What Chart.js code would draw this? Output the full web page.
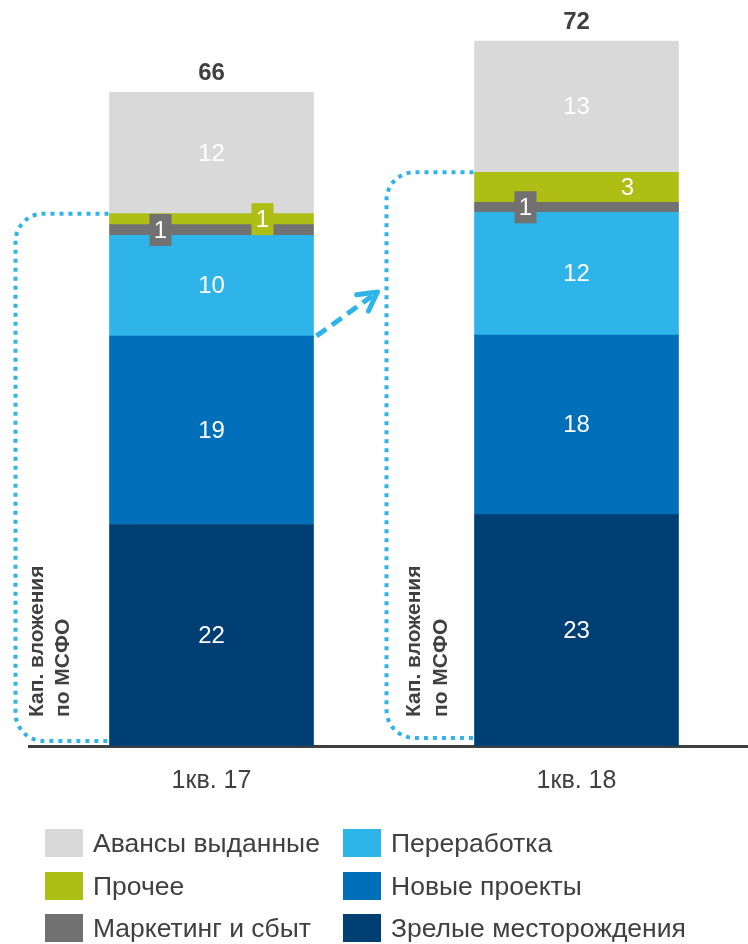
<!DOCTYPE html>
<html>
<head>
<meta charset="utf-8">
<script src="https://cdn.jsdelivr.net/npm/chart.js@4.4.1/dist/chart.umd.min.js"></script>
<style>
  html, body { margin: 0; padding: 0; background: #fff; overflow: hidden; width: 748px; height: 944px; }
  #wrap { position: absolute; left: 0; top: 0; width: 760px; height: 944px; }
  #legend { position: absolute; left: 0; top: 0; width: 748px; height: 944px; pointer-events: none;
            font-family: 'Liberation Sans', Arial, sans-serif; font-size: 26.5px; color: #404040; }
  .item { position: absolute; display: flex; align-items: center; height: 28px; white-space: nowrap; }
  .sw { width: 38px; height: 28px; margin-right: 10px; flex: none; }
</style>
</head>
<body>
<div id="wrap"><canvas id="c"></canvas></div>
<div id="legend"></div>
<script>
// данные (млрд руб.)
const categories = ['1кв. 17', '1кв. 18']
const matureFields = [22.45, 23.45]   // Зрелые месторождения
const newProjects  = [19.1, 18.2]     // Новые проекты
const refining     = [10.2, 12.45]    // Переработка
const marketing    = [1.1, 1.0]       // Маркетинг и сбыт
const other        = [1.1, 3.05]      // Прочее
const advances     = [12.3, 13.3]     // Авансы выданные
const totals       = [66, 72]
const bracketText  = ['Кап. вложения', 'по МСФО']

const FONT = "'Liberation Sans', Arial, sans-serif"
const TEXT = '#404040'
const DOTS = '#2EB4E8'

const datasets = [
  { label: 'Зрелые месторождения', data: matureFields, backgroundColor: '#003F74' },
  { label: 'Новые проекты',        data: newProjects,  backgroundColor: '#006FBA' },
  { label: 'Переработка',          data: refining,     backgroundColor: '#2EB4E8' },
  { label: 'Маркетинг и сбыт',     data: marketing,    backgroundColor: '#717171' },
  { label: 'Прочее',               data: other,        backgroundColor: '#AEBE15' },
  { label: 'Авансы выданные',      data: advances,     backgroundColor: '#D9D9D9' }
].map(d => ({ ...d, borderWidth: 0, barThickness: 204 }))

// где по ширине столбца ставить подпись сегмента
const labelSpot = [0.5, 0.5, 0.5, 0.25, 0.75, 0.5]
// отступы скобок «Кап. вложения» от левого края столбца
const bracketLeft = [94, 88]
const bracketLow  = [5, 8]
const textShift   = [[22, 48], [28, 55]]

const overlay = {
  id: 'overlay',
  afterDatasetsDraw(chart) {
    const { ctx, scales: { y } } = chart
    const base = y.getPixelForValue(0)
    ctx.save()

    // подписи сегментов
    ctx.textAlign = 'center'
    ctx.textBaseline = 'middle'
    chart.data.datasets.forEach((ds, di) => {
      chart.getDatasetMeta(di).data.forEach((bar, bi) => {
        const h = bar.base - bar.y
        const cx = bar.x - bar.width / 2 + bar.width * labelSpot[di]
        const cy = (bar.y + bar.base) / 2
        if (h < 24) {
          ctx.fillStyle = ds.backgroundColor
          ctx.fillRect(cx - 11, cy - 16, 22, 32)
        }
        ctx.fillStyle = '#fff'
        ctx.font = '24px ' + FONT
        ctx.fillText(String(Math.round(ds.data[bi])), cx, cy + 1)
      })
    })

    // итоги над столбцами
    const topMeta = chart.getDatasetMeta(chart.data.datasets.length - 1)
    ctx.fillStyle = TEXT
    ctx.font = 'bold 24px ' + FONT
    topMeta.data.forEach((bar, bi) => ctx.fillText(String(totals[bi]), bar.x, bar.y - 18.5))

    // пунктирные скобки + вертикальный текст
    const firstMeta = chart.getDatasetMeta(0)
    firstMeta.data.forEach((bar, bi) => {
      const x0 = bar.x - bar.width / 2
      const capex = matureFields[bi] + newProjects[bi] + refining[bi] + marketing[bi] + other[bi]
      const yTop = y.getPixelForValue(capex)
      const yBot = base - bracketLow[bi]
      const xv = x0 - bracketLeft[bi]
      const r = 28
      ctx.strokeStyle = DOTS
      ctx.lineWidth = 4
      ctx.lineCap = 'butt'
      ctx.setLineDash([4, 5])
      ctx.beginPath()
      ctx.moveTo(x0 - 1, yTop)
      ctx.lineTo(xv + r, yTop)
      ctx.arcTo(xv, yTop, xv, yTop + r, r)
      ctx.lineTo(xv, yBot - r)
      ctx.arcTo(xv, yBot, xv + r, yBot, r)
      ctx.lineTo(x0 - 1, yBot)
      ctx.stroke()

      ctx.save()
      ctx.fillStyle = TEXT
      ctx.font = 'bold 21px ' + FONT
      ctx.textAlign = 'left'
      ctx.textBaseline = 'middle'
      bracketText.forEach((t, li) => {
        ctx.save()
        ctx.translate(xv + textShift[bi][li], base - 29)
        ctx.rotate(-Math.PI / 2)
        ctx.fillText(t, 0, 0)
        ctx.restore()
      })
      ctx.restore()
    })

    // стрелка от первого столбца ко второй скобке
    const b1 = chart.getDatasetMeta(1).data[0]
    const b2 = firstMeta.data[1]
    const sx = b1.x + b1.width / 2 + 3
    const sy = b1.y
    const ex = b2.x - b2.width / 2 - bracketLeft[1] - 9
    const ey = sy - 44
    ctx.setLineDash([12, 7])
    ctx.lineWidth = 5
    ctx.beginPath()
    ctx.moveTo(sx, sy)
    ctx.lineTo(ex, ey)
    ctx.stroke()
    ctx.setLineDash([])
    ctx.lineCap = 'round'
    const back = Math.atan2(sy - ey, sx - ex)
    ctx.beginPath()
    ;[back - 0.5, back + 0.5].forEach(a => {
      ctx.moveTo(ex, ey)
      ctx.lineTo(ex + 21 * Math.cos(a), ey + 21 * Math.sin(a))
    })
    ctx.stroke()

    ctx.restore()
  }
}

const chart = new Chart(document.getElementById('c').getContext('2d'), {
  type: 'bar',
  data: { labels: categories, datasets },
  options: {
    responsive: true,
    maintainAspectRatio: false,
    animation: false,
    layout: { padding: { top: 6, left: 29, right: 1, bottom: 0 } },
    scales: {
      x: {
        stacked: true,
        grid: { display: false, drawTicks: false },
        border: { color: TEXT, width: 3 },
        ticks: { color: TEXT, padding: 20, font: { family: FONT, size: 25 } },
        afterFit(scale) { scale.height = 198 }
      },
      y: { stacked: true, display: false, min: 0, max: 75 }
    },
    plugins: { legend: { display: false }, tooltip: { enabled: false } }
  },
  plugins: [overlay]
})

// легенда: два столбца по три пункта
const legendOrder = [[5, 4, 3], [2, 1, 0]]
const colLeft = [45, 343]
const rowTop = [829, 872, 914]
const legend = document.getElementById('legend')
legendOrder.forEach((col, ci) => col.forEach((di, ri) => {
  const item = document.createElement('div')
  item.className = 'item'
  item.style.left = colLeft[ci] + 'px'
  item.style.top = rowTop[ri] + 'px'
  item.innerHTML = '<span class="sw" style="background:' + datasets[di].backgroundColor + '"></span>' + datasets[di].label
  legend.appendChild(item)
}))
</script>
</body>
</html>
